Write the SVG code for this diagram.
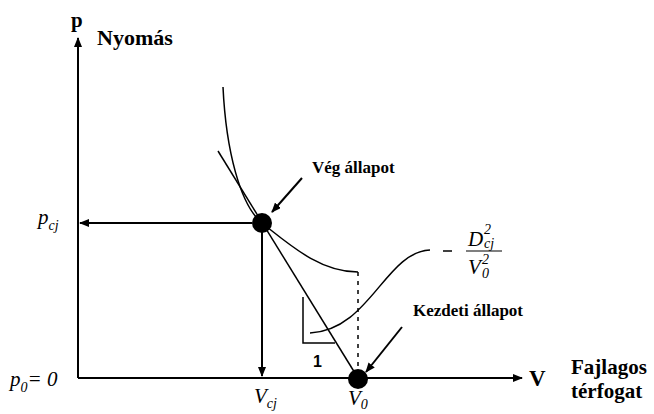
<svg xmlns="http://www.w3.org/2000/svg" width="654" height="414" viewBox="0 0 654 414">
<defs>
<marker id="ah" markerWidth="10" markerHeight="8" refX="9" refY="4" orient="auto" markerUnits="userSpaceOnUse">
<path d="M0,0 L10,4 L0,8 Z" fill="#000"/>
</marker>
<style>
.ln{stroke:#000;stroke-width:2;fill:none}
.th{stroke:#000;stroke-width:1.5;fill:none}
.b{font-family:'Liberation Serif','DejaVu Serif',serif;font-weight:700;fill:#000}
.i{font-family:'Liberation Serif','DejaVu Serif',serif;font-style:italic;fill:#000}
</style>
</defs>
<rect width="654" height="414" fill="#fff"/>
<g id="axes">
<line class="ln" x1="78" y1="378" x2="78" y2="38" marker-end="url(#ah)"/>
<line class="ln" x1="78" y1="378" x2="522" y2="378" marker-end="url(#ah)"/>
<text class="b" x="71" y="27" font-size="21">p</text>
<text class="b" x="97" y="45" font-size="22">Nyomás</text>
<text class="b" x="529" y="386" font-size="23">V</text>
<text class="b" x="571" y="374" font-size="21">Fajlagos</text>
<text class="b" x="571" y="398" font-size="21">térfogat</text>
</g>
<g id="connectors">
<path class="th" d="M223,87 C226,150 240,205 262,223 C290,245 320,272 358,272"/>
<line class="th" x1="218" y1="151" x2="358" y2="378"/>
<line x1="358" y1="272" x2="358" y2="378" stroke="#000" stroke-width="1.5" stroke-dasharray="4,5"/>
<line class="ln" x1="252" y1="223" x2="80" y2="223" marker-end="url(#ah)"/>
<line class="ln" x1="262" y1="230" x2="262" y2="376" marker-end="url(#ah)"/>
<path class="th" d="M303,297 L303,343 L335,343"/>
<path class="th" d="M310,333 C370,330 385,252 430,250"/>
<line class="ln" x1="302" y1="178" x2="272" y2="212" marker-end="url(#ah)"/>
<line class="ln" x1="402" y1="327" x2="366" y2="372" marker-end="url(#ah)"/>
</g>
<g id="veg">
<circle cx="262" cy="223" r="10" fill="#000"/>
<text class="b" x="312" y="173" font-size="17">Vég állapot</text>
</g>
<g id="kezdeti">
<circle cx="358" cy="379" r="10" fill="#000"/>
<text class="b" x="413" y="316" font-size="17">Kezdeti állapot</text>
</g>
<g id="labels">
<text class="i" x="38" y="224" font-size="21">p<tspan font-size="14" dy="6">cj</tspan></text>
<text class="i" x="10" y="386" font-size="21">p<tspan font-size="14" dy="6">0</tspan><tspan dy="-6">= 0</tspan></text>
<text class="i" x="254" y="403" font-size="21">V<tspan font-size="14" dy="5">cj</tspan></text>
<text class="i" x="348" y="405" font-size="21">V<tspan font-size="14" dy="4">0</tspan></text>
<text x="313" y="367" font-family="'Liberation Sans',sans-serif" font-weight="700" font-size="16">1</text>
<line x1="443" y1="251" x2="452" y2="251" stroke="#000" stroke-width="1.5"/>
<line x1="466" y1="251" x2="502" y2="251" stroke="#000" stroke-width="1.2"/>
<text class="i" x="468" y="246" font-size="21">D</text>
<text class="i" x="484" y="234" font-size="14">2</text>
<text class="i" x="484" y="248" font-size="14">cj</text>
<text class="i" x="468" y="274" font-size="21">V</text>
<text class="i" x="482" y="264" font-size="14">2</text>
<text class="i" x="482" y="278" font-size="14">0</text>
</g>
</svg>
